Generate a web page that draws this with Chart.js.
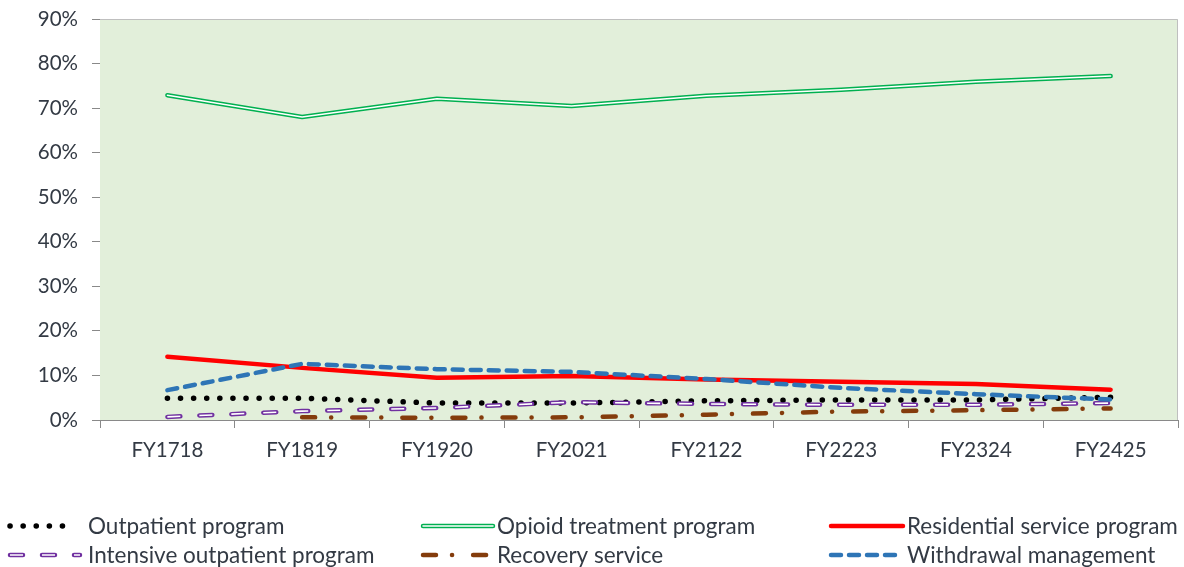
<!DOCTYPE html>
<html>
<head>
<meta charset="utf-8">
<script src="https://cdn.jsdelivr.net/npm/chart.js@4.4.1/dist/chart.umd.min.js"></script>
<style>
  html, body { margin: 0; padding: 0; background: #fff; }
  #caixa { width: 1184px; height: 567px; }
</style>
</head>
<body>
<div id="caixa"><canvas id="grafico"></canvas></div>
<script>
// dados (em %)
var anos = ["FY1718", "FY1819", "FY1920", "FY2021", "FY2122", "FY2223", "FY2324", "FY2425"];
var outpatient = [4.9, 4.9, 3.8, 3.8, 4.3, 4.5, 4.5, 5.1];
var opioid = [72.9, 68.0, 72.1, 70.5, 72.8, 74.1, 75.9, 77.2];
var residential = [14.2, 11.7, 9.5, 9.9, 9.1, 8.6, 8.1, 6.8];
var intensive = [0.7, 2.0, 2.7, 4.0, 3.6, 3.4, 3.4, 3.8];
var recovery = [null, 0.6, 0.5, 0.6, 1.2, 1.9, 2.2, 2.6];
var withdrawal = [6.7, 12.6, 11.4, 10.8, 9.2, 7.2, 5.8, 4.6];
var ticksY = [0, 10, 20, 30, 40, 50, 60, 70, 80, 90];

var corTexto = "#333a44";
var fonte = "Lato, 'Open Sans', sans-serif";

// cada série: um ou dois traços (os duplos têm um traço branco por dentro)
var series = [
  { nome: "Outpatient program", dados: outpatient, tracos: [
    { cor: "#000000", largura: 5.5, dash: [0.1, 13], cap: "round" }] },
  { nome: "Opioid treatment program", dados: opioid, tracos: [
    { cor: "#00b050", largura: 4.5, dash: [], cap: "round" },
    { cor: "#ffffff", largura: 1.5, dash: [], cap: "round" }] },
  { nome: "Residential service program", dados: residential, tracos: [
    { cor: "#ff0000", largura: 4.5, dash: [], cap: "round" }] },
  { nome: "Intensive outpatient program", dados: intensive, tracos: [
    { cor: "#7030a0", largura: 4.5, dash: [13, 19], cap: "round" },
    { cor: "#ffffff", largura: 1.6, dash: [13, 19], cap: "butt" }] },
  { nome: "Recovery service", dados: recovery, tracos: [
    { cor: "#843c0c", largura: 4.5, dash: [13, 16, 0.1, 21], cap: "round" }] },
  { nome: "Withdrawal management", dados: withdrawal, tracos: [
    { cor: "#2e75b6", largura: 4.5, dash: [10, 8], cap: "round" }] }
];

// monta os datasets (um por traço)
var datasets = [];
series.forEach(function(s) {
  s.tracos.forEach(function(t) {
    datasets.push({
      label: s.nome,
      data: s.dados,
      borderColor: t.cor,
      borderWidth: t.largura,
      borderDash: t.dash,
      borderCapStyle: t.cap,
      borderJoinStyle: "round",
      pointRadius: 0,
      pointHoverRadius: 0,
      tension: 0,
      fill: false,
      spanGaps: true
    });
  });
});
// ordem de desenho: linhas de cima primeiro, as de baixo por cima
datasets.forEach(function(d, i) { d.order = datasets.length - i; });

// fundo verde e borda da área do gráfico
var fundoPlugin = {
  id: "fundo",
  beforeDatasetsDraw: function(chart) {
    var a = chart.chartArea, ctx = chart.ctx;
    ctx.save();
    ctx.fillStyle = "#e2efda";
    ctx.fillRect(a.left, a.top, a.right - a.left, a.bottom - a.top);
    ctx.strokeStyle = "#bfbfbf";
    ctx.lineWidth = 1;
    ctx.beginPath();
    ctx.moveTo(a.left, a.top + 0.5);
    ctx.lineTo(a.right - 0.5, a.top + 0.5);
    ctx.lineTo(a.right - 0.5, a.bottom);
    ctx.stroke();
    ctx.restore();
  }
};

// legenda desenhada à mão embaixo
var posLegenda = [
  { x1: 10, x2: 74, xt: 88, y: 526 },
  { x1: 423, x2: 493, xt: 497, y: 526 },
  { x1: 831, x2: 903, xt: 907, y: 526 },
  { x1: 10, x2: 80, xt: 88, y: 555 },
  { x1: 423, x2: 493, xt: 497, y: 555 },
  { x1: 831, x2: 903, xt: 907, y: 555 }
];
var legendaPlugin = {
  id: "legendaMao",
  afterDraw: function(chart) {
    var ctx = chart.ctx;
    series.forEach(function(s, i) {
      var p = posLegenda[i];
      s.tracos.forEach(function(t) {
        ctx.save();
        ctx.strokeStyle = t.cor;
        ctx.lineWidth = t.largura;
        ctx.setLineDash(t.dash);
        ctx.lineCap = t.cap;
        ctx.beginPath();
        ctx.moveTo(p.x1, p.y);
        ctx.lineTo(p.x2, p.y);
        ctx.stroke();
        ctx.restore();
      });
      ctx.save();
      ctx.fillStyle = corTexto;
      ctx.font = "22.5px " + fonte;
      ctx.textBaseline = "middle";
      ctx.fillText(s.nome, p.xt, p.y + 1);
      ctx.restore();
    });
  }
};

var ctx = document.getElementById("grafico").getContext("2d");
var grafico = new Chart(ctx, {
  type: "line",
  data: { labels: anos, datasets: datasets },
  plugins: [fundoPlugin, legendaPlugin],
  options: {
    responsive: true,
    maintainAspectRatio: false,
    animation: false,
    layout: { padding: { top: 19, right: 6, left: 0, bottom: 0 } },
    plugins: { legend: { display: false }, tooltip: { enabled: false } },
    scales: {
      x: {
        offset: true,
        grid: { offset: true, drawOnChartArea: false, tickLength: 8, color: "#898989" },
        border: { color: "#898989", width: 1 },
        ticks: { color: corTexto, font: { family: fonte, size: 20.5 }, padding: 10, maxRotation: 0 },
        afterFit: function(scale) { scale.height = 147; }
      },
      y: {
        min: 0,
        max: 90,
        afterBuildTicks: function(scale) {
          scale.ticks = ticksY.map(function(v) { return { value: v }; });
        },
        grid: { drawOnChartArea: false, tickLength: 8, color: "#898989" },
        border: { color: "#898989", width: 1 },
        ticks: {
          color: corTexto,
          font: { family: fonte, size: 20.5 },
          padding: 14,
          callback: function(v) { return v + "%"; }
        },
        afterFit: function(scale) {
          scale.width = 100;
          scale.paddingTop = 0;
          scale.paddingBottom = 0;
        }
      }
    }
  }
});
</script>
</body>
</html>
